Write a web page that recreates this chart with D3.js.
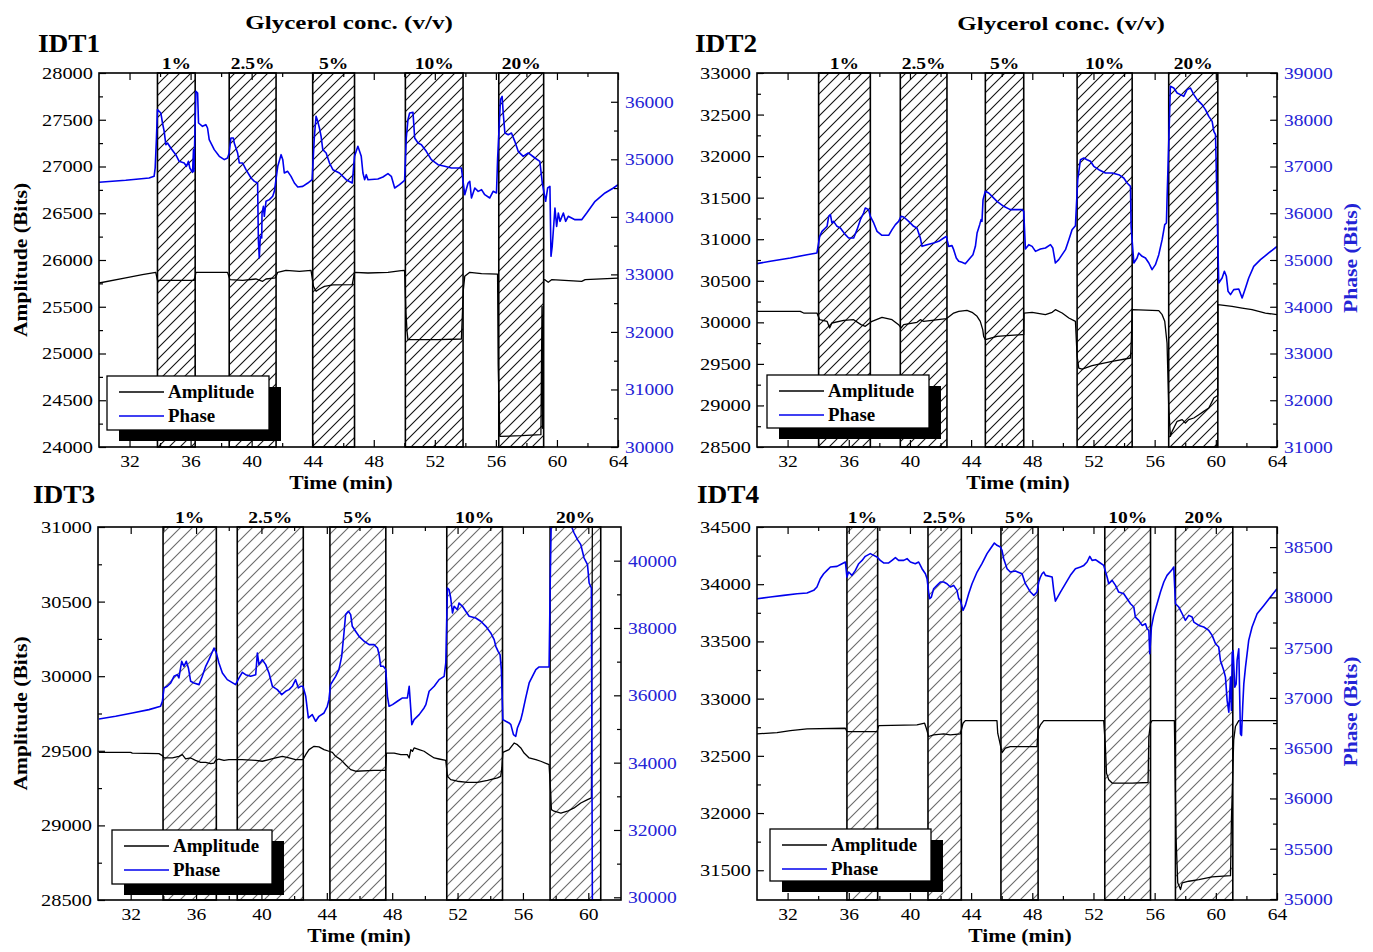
<!DOCTYPE html>
<html><head><meta charset="utf-8">
<script src="https://cdn.jsdelivr.net/npm/d3@7"></script>
<style>html,body{margin:0;padding:0;background:#fff;}svg{display:block;}</style>
</head><body>
<script>
// ---------------- DATA ----------------
const concLabels = ["1%", "2.5%", "5%", "10%", "20%"];
const idtNames = ["IDT1", "IDT2", "IDT3", "IDT4"];
const glycerolTitle = "Glycerol conc. (v/v)";
const seriesNames = ["Amplitude", "Phase"];

// glycerol injection windows (min)
const boxes1 = [[33.83,36.30],[38.53,41.60],[44.00,46.74],[50.07,53.85],[56.19,59.13]];
const boxes2 = [[34.03,37.41],[39.37,42.42],[44.93,47.44],[50.93,54.53],[56.92,60.13]];
const boxes3 = [[33.98,37.24],[38.52,42.56],[44.19,47.61],[51.34,54.75],[57.66,60.76]];
const boxes4 = [[35.88,37.89],[41.18,43.36],[45.95,48.38],[52.74,55.73],[57.36,61.11]];

// IDT1
const amp1 = [[30,25754],[31.75,25808],[32.84,25843],[33.72,25868],[33.83,25783],[36.24,25783],[36.35,25868],[38.42,25868],[38.58,25790],[39.41,25783],[40.28,25797],[40.72,25772],[40.94,25797],[41.55,25808],[41.71,25868],[42.25,25890],[43.13,25879],[43.89,25890],[44.05,25718],[44.22,25665],[44.44,25690],[44.77,25718],[45.32,25733],[46.59,25736],[46.74,25868],[47.62,25861],[48.93,25868],[49.80,25886],[50.02,25890],[50.11,25433],[50.18,25237],[50.24,25148],[52.21,25148],[53.74,25155],[53.87,25683],[53.96,25825],[54.29,25868],[55.06,25854],[56.11,25850],[56.15,24881],[56.26,24114],[57.68,24121],[58.95,24132],[59.02,25505],[59.06,24200],[59.13,25790],[59.21,25790],[59.43,25761],[59.65,25790],[61.62,25772],[61.85,25790],[64,25807]];
const phase1 = [[30,34600],[31.75,34635],[33.28,34675],[33.61,34704],[33.68,34849],[33.76,35341],[33.83,35863],[34.05,35805],[34.16,35631],[34.27,35486],[34.38,35254],[34.49,35283],[34.70,35197],[35.03,35081],[35.25,34965],[35.58,34936],[35.73,34878],[35.86,34965],[35.95,34849],[36.13,34774],[36.19,35168],[36.22,34790],[36.35,36181],[36.46,36152],[36.52,35631],[36.78,35573],[37.00,35602],[37.11,35544],[37.22,35341],[37.55,35168],[37.88,35052],[38.21,34994],[38.42,35023],[38.53,35110],[38.64,35370],[38.80,35370],[38.86,35283],[39.08,35110],[39.19,34936],[39.41,34936],[39.63,34820],[39.96,34675],[40.18,34617],[40.39,34588],[40.44,33603],[40.50,33285],[40.57,33661],[40.66,33632],[40.68,34067],[40.77,34183],[40.83,34009],[40.94,34270],[41.16,34299],[41.38,34357],[41.49,34444],[41.71,34878],[41.93,35081],[42.04,34994],[42.14,34762],[42.36,34791],[42.58,34704],[42.80,34588],[43.02,34519],[43.35,34530],[43.68,34588],[43.96,34646],[44.11,35399],[44.22,35747],[44.33,35660],[44.44,35544],[44.55,35399],[44.66,35168],[44.88,35110],[45.10,34936],[45.32,34820],[45.75,34762],[46.19,34646],[46.59,34588],[46.74,35052],[46.96,35225],[47.18,35052],[47.29,34762],[47.40,34646],[47.51,34733],[47.62,34646],[48.27,34658],[48.60,34693],[48.93,34750],[49.15,34704],[49.37,34501],[49.69,34559],[50.02,34635],[50.13,35370],[50.24,35689],[50.35,35805],[50.57,35816],[50.68,35370],[50.90,35283],[51.12,35254],[51.44,35139],[51.77,34994],[52.21,34907],[52.65,34878],[53.09,34849],[53.74,34849],[53.96,34385],[54.18,34588],[54.29,34617],[54.40,34328],[54.62,34501],[54.84,34443],[55.06,34472],[55.27,34385],[55.60,34328],[55.82,34444],[56.04,34415],[56.11,34994],[56.30,36037],[56.41,36094],[56.48,35805],[56.59,35457],[56.81,35428],[57.02,35457],[57.24,35312],[57.46,35139],[57.79,35052],[58.12,35110],[58.56,35023],[58.88,34965],[59.04,34588],[59.26,34270],[59.39,34501],[59.54,34530],[59.61,33314],[59.69,33488],[59.80,33893],[59.87,34154],[59.98,33835],[60.09,34067],[60.20,33922],[60.42,34067],[60.57,33922],[60.74,34009],[61.18,33951],[61.62,33951],[61.95,34067],[62.50,34270],[63.15,34415],[63.70,34501],[64,34559]];

// IDT2
const amp2 = [[30,30132],[32.83,30132],[33.05,30112],[33.92,30112],[34.10,30032],[34.58,30012],[34.75,29932],[34.90,29992],[35.67,30024],[36.32,30032],[36.80,29972],[37.08,29952],[37.52,30012],[38.17,30060],[38.83,30032],[39.26,29972],[39.42,29932],[39.59,29972],[40.46,30000],[40.68,30032],[40.90,30012],[42.38,30044],[42.86,30112],[43.19,30132],[43.73,30144],[44.06,30120],[44.39,30072],[44.60,30012],[44.76,29912],[44.82,29831],[44.93,29791],[45.69,29831],[46.56,29843],[47.33,29851],[47.44,29851],[47.46,30112],[47.99,30120],[48.86,30092],[49.30,30120],[49.51,30152],[49.95,30112],[50.39,30052],[50.82,30012],[50.93,29591],[51.04,29450],[51.26,29438],[51.91,29478],[53.22,29530],[54.42,29571],[54.48,29800],[54.53,30152],[55.83,30144],[56.27,30140],[56.49,30092],[56.66,30012],[56.81,29751],[56.92,28989],[57.03,28628],[57.14,28688],[57.47,28809],[57.80,28829],[58.01,28789],[58.23,28829],[58.56,28849],[58.89,28889],[59.21,28929],[59.54,28969],[59.76,29049],[59.87,29089],[60.12,29120],[60.14,30212],[61.06,30192],[61.72,30172],[62.37,30152],[63.24,30112],[64,30092]];
const phase2 = [[30,34922],[30.87,34972],[32.18,35043],[33.27,35114],[33.92,35150],[34.10,35506],[34.25,35613],[34.47,35685],[34.58,35720],[34.69,35934],[34.80,35970],[34.90,35792],[35.01,35827],[35.23,35720],[35.45,35685],[35.78,35542],[35.99,35471],[36.32,35471],[36.54,35649],[36.76,35863],[36.97,36005],[37.08,36112],[37.30,36077],[37.41,35934],[37.63,35792],[37.85,35613],[38.17,35528],[38.61,35528],[38.83,35649],[39.05,35756],[39.26,35827],[39.42,35934],[39.59,35920],[39.92,35827],[40.24,35720],[40.46,35685],[40.68,35471],[40.79,35292],[41.12,35328],[41.55,35364],[41.88,35399],[42.21,35471],[42.38,35506],[42.53,35292],[42.75,35307],[42.86,35221],[43.03,35043],[43.19,34972],[43.40,34950],[43.62,34922],[43.84,35007],[44.12,35114],[44.28,35292],[44.39,35578],[44.56,35756],[44.65,35863],[44.71,35827],[44.78,36291],[44.93,36469],[45.15,36433],[45.37,36362],[45.69,36255],[46.13,36148],[46.56,36077],[47.33,36077],[47.44,36041],[47.55,35235],[47.77,35328],[47.99,35292],[48.21,35185],[48.53,35235],[48.86,35257],[49.19,35328],[49.34,35257],[49.51,34936],[49.73,35007],[49.95,35114],[50.17,35221],[50.39,35435],[50.60,35649],[50.82,35734],[50.97,36718],[51.15,37146],[51.37,37182],[51.58,37146],[51.80,37111],[52.02,37004],[52.35,36932],[52.78,36861],[53.22,36861],[53.65,36825],[53.98,36754],[54.20,36647],[54.42,36576],[54.46,35720],[54.64,34936],[54.85,35043],[54.96,35150],[55.18,35079],[55.40,35043],[55.62,34936],[55.83,34793],[56.05,34900],[56.27,35114],[56.49,35435],[56.66,35756],[56.77,35792],[56.81,36291],[57.03,38715],[57.25,38679],[57.47,38572],[57.69,38537],[57.90,38501],[58.12,38644],[58.34,38679],[58.56,38537],[58.78,38430],[59.10,38323],[59.32,38216],[59.54,38073],[59.76,37966],[59.87,37752],[59.98,37681],[60.19,34508],[60.41,34615],[60.56,34758],[60.69,34651],[60.80,34330],[60.96,34259],[61.17,34366],[61.50,34380],[61.72,34187],[61.94,34401],[62.15,34615],[62.48,34865],[62.92,35007],[63.46,35150],[64,35292]];

// IDT3
const amp3 = [[30.06,29490],[32.00,29490],[32.10,29485],[33.73,29481],[33.94,29468],[34.04,29452],[34.55,29452],[34.95,29463],[35.16,29474],[35.36,29446],[35.67,29452],[35.97,29436],[36.28,29423],[36.59,29423],[36.89,29414],[37.10,29418],[37.20,29436],[37.40,29445],[37.71,29436],[38.01,29441],[38.52,29441],[38.83,29441],[39.65,29436],[40.05,29430],[40.46,29441],[40.87,29452],[41.28,29463],[41.69,29452],[42.09,29441],[42.54,29441],[42.71,29474],[42.91,29508],[43.22,29530],[43.52,29526],[43.83,29508],[44.13,29497],[44.34,29490],[44.54,29463],[44.85,29441],[45.15,29407],[45.46,29374],[45.76,29363],[46.89,29369],[47.59,29369],[47.65,29485],[48.12,29485],[48.53,29474],[48.93,29474],[49.04,29452],[49.14,29508],[49.24,29496],[49.34,29519],[49.65,29508],[49.95,29497],[50.26,29474],[50.57,29452],[50.87,29445],[51.28,29436],[51.38,29329],[51.58,29307],[51.99,29296],[52.60,29289],[53.22,29289],[53.83,29302],[54.44,29318],[54.64,29329],[54.71,29385],[54.77,29490],[55.15,29508],[55.46,29552],[55.66,29541],[55.87,29519],[56.07,29485],[56.38,29452],[56.79,29441],[57.09,29430],[57.60,29407],[57.70,29217],[57.74,29106],[57.91,29095],[58.32,29083],[58.72,29095],[59.13,29117],[59.54,29150],[59.95,29173],[60.19,29184],[60.25,31100]];
const phase3 = [[30.06,35298],[31.08,35377],[32.10,35476],[33.12,35575],[33.83,35674],[33.94,35823],[34.04,36219],[34.24,36268],[34.45,36367],[34.65,36565],[34.85,36614],[34.95,36516],[35.12,37010],[35.26,36862],[35.40,37010],[35.53,36812],[35.67,36417],[35.87,36367],[36.18,36318],[36.38,36565],[36.59,36862],[36.79,37060],[37.10,37406],[37.24,37258],[37.40,36961],[37.61,36664],[37.91,36466],[38.42,36318],[38.63,36516],[38.83,36684],[39.03,36614],[39.34,36565],[39.65,36614],[39.75,37258],[39.85,36912],[40.05,37060],[40.26,36912],[40.46,36664],[40.67,36268],[40.97,36169],[41.24,36021],[41.48,36120],[41.69,36169],[41.89,36268],[42.09,36466],[42.26,36219],[42.40,36268],[42.54,36268],[42.71,35971],[42.87,35328],[43.11,35427],[43.32,35229],[43.52,35377],[43.83,35476],[44.03,35674],[44.13,35872],[44.23,36318],[44.54,36565],[44.74,36763],[44.91,37159],[45.05,37852],[45.15,38397],[45.32,38496],[45.46,38397],[45.56,38050],[45.76,37902],[45.97,37753],[46.28,37605],[46.59,37506],[46.89,37506],[47.10,37406],[47.20,37209],[47.30,36862],[47.46,36862],[47.61,36763],[47.71,35971],[47.81,35674],[48.02,35724],[48.32,35823],[48.63,35922],[48.93,35922],[49.04,36268],[49.14,35575],[49.20,35129],[49.34,35278],[49.65,35427],[49.95,35625],[50.06,35724],[50.26,36120],[50.57,36268],[50.87,36466],[51.18,36565],[51.28,36961],[51.38,39188],[51.48,39139],[51.58,38891],[51.69,38446],[51.79,38644],[51.99,38545],[52.09,38743],[52.30,38644],[52.50,38496],[52.71,38347],[53.11,38297],[53.42,38199],[53.73,38050],[54.03,37852],[54.24,37654],[54.34,37456],[54.48,37307],[54.60,37209],[54.68,36763],[54.77,35278],[54.95,35229],[55.15,35179],[55.26,35130],[55.42,34833],[55.56,34783],[55.66,35030],[55.87,35278],[55.97,35476],[56.17,35922],[56.38,36367],[56.58,36565],[56.79,36763],[56.99,36842],[57.60,36842],[57.68,39733],[57.74,41400],[58.30,41500],[58.93,41070],[59.13,40822],[59.34,40624],[59.54,40476],[59.74,40079],[59.95,39882],[60.05,39337],[60.19,39188],[60.25,29500]];

// IDT4
const amp4 = [[30,32692],[31.31,32703],[32.18,32721],[33.27,32735],[35.78,32741],[35.88,32712],[37.85,32712],[37.96,32764],[40.46,32770],[40.96,32785],[41.07,32741],[41.16,32698],[41.22,32669],[41.55,32683],[42.21,32692],[42.64,32683],[43.30,32692],[43.47,32785],[43.62,32808],[45.69,32808],[45.74,32698],[45.80,32663],[46.02,32529],[46.24,32567],[46.56,32581],[48.31,32581],[48.38,32727],[48.53,32770],[48.75,32808],[52.67,32808],[52.78,32581],[52.85,32349],[53.00,32291],[53.22,32262],[54.53,32262],[55.57,32267],[55.62,32669],[55.73,32785],[55.83,32808],[57.29,32808],[57.40,31782],[57.51,31390],[57.69,31331],[57.80,31390],[58.23,31404],[58.89,31419],[59.76,31442],[60.96,31453],[61.02,31942],[61.17,32640],[61.28,32756],[61.50,32808],[64,32808]];
const phase4 = [[30,37987],[30.87,38003],[31.74,38020],[32.62,38036],[33.27,38043],[33.71,38070],[33.92,38103],[34.14,38186],[34.36,38235],[34.58,38269],[34.80,38302],[35.23,38308],[35.56,38335],[35.78,38352],[35.88,38202],[35.99,38252],[36.21,38219],[36.43,38269],[36.65,38335],[36.87,38368],[37.08,38408],[37.41,38435],[37.63,38418],[37.85,38401],[38.06,38368],[38.28,38342],[38.61,38342],[38.83,38368],[39.05,38395],[39.26,38368],[39.59,38368],[39.81,38385],[40.03,38352],[40.35,38335],[40.57,38352],[40.79,38285],[41.01,38235],[41.12,38186],[41.22,38053],[41.29,37987],[41.40,38003],[41.55,38086],[41.77,38119],[41.99,38153],[42.21,38153],[42.42,38136],[42.64,38103],[42.86,38119],[43.08,38070],[43.19,37987],[43.30,37970],[43.47,37871],[43.62,37920],[43.84,38036],[44.06,38136],[44.39,38252],[44.71,38335],[45.04,38435],[45.26,38484],[45.52,38541],[45.69,38518],[45.91,38501],[46.02,38468],[46.13,38385],[46.35,38285],[46.56,38252],[46.89,38262],[47.33,38235],[47.55,38136],[47.88,38053],[48.10,38020],[48.31,38053],[48.42,38153],[48.53,38202],[48.64,38235],[48.75,38252],[48.86,38219],[49.30,38202],[49.40,38070],[49.51,37963],[49.84,38053],[50.17,38136],[50.49,38219],[50.82,38285],[51.15,38302],[51.37,38318],[51.58,38352],[51.76,38408],[51.91,38368],[52.13,38375],[52.35,38352],[52.67,38318],[52.89,38202],[53.00,38136],[53.22,38169],[53.44,38119],[53.65,38053],[53.98,38036],[54.20,37987],[54.42,37937],[54.64,37904],[54.74,37804],[54.96,37771],[55.18,37721],[55.40,37738],[55.51,37688],[55.62,37671],[55.68,37439],[55.79,37705],[55.94,37821],[56.16,37937],[56.38,38053],[56.60,38153],[56.81,38219],[57.10,38269],[57.25,38302],[57.36,37937],[57.58,37904],[57.80,37837],[58.01,37771],[58.23,37821],[58.45,37804],[58.56,37754],[58.89,37721],[59.21,37705],[59.54,37671],[59.76,37622],[59.98,37539],[60.19,37506],[60.30,37373],[60.52,37273],[60.63,37207],[60.74,36975],[60.85,36859],[60.96,37207],[61.02,36875],[61.07,37439],[61.13,37472],[61.24,37107],[61.33,37140],[61.39,37373],[61.50,37489],[61.61,36643],[61.68,36626],[61.76,36925],[61.83,37140],[61.94,37306],[62.15,37572],[62.37,37705],[62.70,37837],[63.14,37920],[63.57,38003],[64,38086]];

// axis ticks
const xMajor64 = [32,36,40,44,48,52,56,60,64];
const xMinor64 = [34,38,42,46,50,54,58,62];
const xMajor62 = [32,36,40,44,48,52,56,60];
const xMinor62 = [34,38,42,46,50,54,58];

// ---------------- LAYOUT ----------------
const W = 1373, H = 952;
const FONT = "'Liberation Serif','Times New Roman',serif";
const BLUE = "#0000ee";
const LBLUE = "#2424d6";

const panels = [
  {name: idtNames[0], l:99, r:618, t:73, b:447, xDom:[30,64], xMaj:xMajor64, xMin:xMinor64,
   aDom:[24000,28000], aStep:500, pDom:[30000,36500], pStep:1000,
   boxes:boxes1, amp:amp1, phase:phase1, hatch:"#111", timeX:341,
   idPos:[38,52], title:[349,29], ampTitle:true, phTitle:false, leg:[107,376,162,54]},
  {name: idtNames[1], l:757, r:1277, t:73, b:447, xDom:[30,64], xMaj:xMajor64, xMin:xMinor64,
   aDom:[28500,33000], aStep:500, pDom:[31000,39000], pStep:1000,
   boxes:boxes2, amp:amp2, phase:phase2, hatch:"#111", timeX:1018,
   idPos:[695,52], title:[1061,30], ampTitle:false, phTitle:true, leg:[767,375,162,53]},
  {name: idtNames[2], l:98, r:621, t:527, b:900, xDom:[30,62], xMaj:xMajor62, xMin:xMinor62,
   aDom:[28500,31000], aStep:500, pDom:[29920,41000], pStep:2000,
   boxes:boxes3, amp:amp3, phase:phase3, hatch:"#666", timeX:359,
   idPos:[33,503], title:null, ampTitle:true, phTitle:false, leg:[112,830,160,54]},
  {name: idtNames[3], l:757, r:1277, t:527, b:900, xDom:[30,64], xMaj:xMajor64, xMin:xMinor64,
   aDom:[31240,34500], aStep:500, pDom:[34990,38700], pStep:500,
   boxes:boxes4, amp:amp4, phase:phase4, hatch:"#666", timeX:1020,
   idPos:[697,503], title:null, ampTitle:false, phTitle:true, leg:[770,829,161,52]}
];

const svg = d3.select("body").append("svg").attr("width", W).attr("height", H)
  .attr("font-family", FONT);
svg.append("rect").attr("width", W).attr("height", H).attr("fill", "#fff");
const defs = svg.append("defs");

function addHatch(id, color, s, w) {
  const p = defs.append("pattern").attr("id", id).attr("patternUnits", "userSpaceOnUse")
    .attr("width", s).attr("height", s);
  p.append("rect").attr("width", s).attr("height", s).attr("fill", "#fff");
  p.append("path").attr("d", `M0,${s} L${s},0 M${-s/2},${s/2} L${s/2},${-s/2} M${s/2},${s*1.5} L${s*1.5},${s/2}`)
    .attr("stroke", color).attr("stroke-width", w).attr("fill", "none");
}
addHatch("hatchDark", "#111", 11, 1.1);
addHatch("hatchGray", "#6a6a6a", 12, 1.1);

function txt(g, x, y, s, o) {
  return g.append("text")
    .attr("transform", `translate(${x},${y})` + (o.rot ? ` rotate(${o.rot})` : "") + ` scale(${o.sx || 1},1)`)
    .attr("text-anchor", o.anchor || "middle")
    .attr("font-size", o.size || 18)
    .attr("font-weight", o.weight || "normal")
    .attr("fill", o.fill || "#000")
    .text(s);
}

function range(a, b, step) { return d3.range(a, b + step / 2, step); }

panels.forEach((P, i) => {
  const g = svg.append("g");
  const x = d3.scaleLinear().domain(P.xDom).range([P.l, P.r]);
  const yA = d3.scaleLinear().domain(P.aDom).range([P.b, P.t]);
  const yP = d3.scaleLinear().domain(P.pDom).range([P.b, P.t]);

  const clipId = "clip" + i;
  defs.append("clipPath").attr("id", clipId).append("rect")
    .attr("x", P.l).attr("y", P.t).attr("width", P.r - P.l).attr("height", P.b - P.t);

  // hatched windows
  const hatchId = P.hatch === "#111" ? "hatchDark" : "hatchGray";
  g.selectAll("rect.win").data(P.boxes).join("rect").attr("class", "win")
    .attr("x", d => x(d[0])).attr("y", P.t)
    .attr("width", d => x(d[1]) - x(d[0])).attr("height", P.b - P.t)
    .attr("fill", `url(#${hatchId})`).attr("stroke", "#000").attr("stroke-width", 1.6);

  // concentration labels
  g.selectAll("text.conc").data(P.boxes).join("text").attr("class", "conc")
    .attr("transform", (d) => `translate(${x((d[0] + d[1]) / 2)},${P.t - 4}) scale(1.15,1)`)
    .attr("text-anchor", "middle").attr("font-size", 17).attr("font-weight", "bold")
    .text((d, k) => concLabels[k]);

  // lines
  const lineA = d3.line().x(d => x(d[0])).y(d => yA(d[1]));
  const lineP = d3.line().x(d => x(d[0])).y(d => yP(d[1]));
  const lg = g.append("g").attr("clip-path", `url(#${clipId})`);
  lg.append("path").datum(P.amp).attr("d", lineA).attr("fill", "none")
    .attr("stroke", "#000").attr("stroke-width", 1.3).attr("stroke-linejoin", "round");
  lg.append("path").datum(P.phase).attr("d", lineP).attr("fill", "none")
    .attr("stroke", BLUE).attr("stroke-width", 1.6).attr("stroke-linejoin", "round");

  // axes
  const styleAxis = (sel, sx, color) => {
    sel.select(".domain").remove();
    sel.selectAll(".tick line").attr("stroke", "#000").attr("stroke-width", 1.2);
    sel.selectAll(".tick text").attr("font-family", FONT).attr("font-size", 17)
      .attr("fill", color || "#000")
      .each(function () {
        const t = d3.select(this);
        const xx = +t.attr("x") || 0;
        t.attr("x", xx / sx).attr("transform", `scale(${sx},1)`);
      });
  };
  const aMaj = range(Math.ceil(P.aDom[0] / P.aStep) * P.aStep, P.aDom[1], P.aStep);
  const aMin = aMaj.map(v => v + P.aStep / 2).filter(v => v < P.aDom[1]);
  const pStart = Math.ceil(P.pDom[0] / P.pStep) * P.pStep;
  const pMaj = range(pStart, P.pDom[1], P.pStep).filter(v => v <= P.pDom[1]);
  const pMin = [pStart - P.pStep / 2].concat(pMaj.map(v => v + P.pStep / 2)).filter(v => v > P.pDom[0] && v < P.pDom[1]);

  g.append("g").attr("transform", `translate(${P.l},0)`)
    .call(d3.axisLeft(yA).tickValues(aMaj).tickFormat(d3.format("d")).tickSize(-7).tickPadding(6))
    .call(s => styleAxis(s, 1.2));
  g.append("g").attr("transform", `translate(${P.l},0)`)
    .call(d3.axisLeft(yA).tickValues(aMin).tickFormat("").tickSize(-4))
    .call(s => styleAxis(s, 1));

  g.append("g").attr("transform", `translate(${P.r},0)`)
    .call(d3.axisRight(yP).tickValues(pMaj).tickFormat(d3.format("d")).tickSize(-7).tickPadding(7))
    .call(s => styleAxis(s, 1.15, LBLUE));
  g.append("g").attr("transform", `translate(${P.r},0)`)
    .call(d3.axisRight(yP).tickValues(pMin).tickFormat("").tickSize(-4))
    .call(s => styleAxis(s, 1));

  g.append("g").attr("transform", `translate(0,${P.b})`)
    .call(d3.axisBottom(x).tickValues(P.xMaj).tickFormat(d3.format("d")).tickSize(-7).tickPadding(8))
    .call(s => styleAxis(s, 1.15));
  g.append("g").attr("transform", `translate(0,${P.b})`)
    .call(d3.axisBottom(x).tickValues(P.xMin).tickFormat("").tickSize(-4))
    .call(s => styleAxis(s, 1));
  g.append("g").attr("transform", `translate(0,${P.t})`)
    .call(d3.axisTop(x).tickValues(P.xMaj).tickFormat("").tickSize(-7))
    .call(s => styleAxis(s, 1));
  g.append("g").attr("transform", `translate(0,${P.t})`)
    .call(d3.axisTop(x).tickValues(P.xMin).tickFormat("").tickSize(-4))
    .call(s => styleAxis(s, 1));

  // frame
  g.append("rect").attr("x", P.l).attr("y", P.t).attr("width", P.r - P.l).attr("height", P.b - P.t)
    .attr("fill", "none").attr("stroke", "#000").attr("stroke-width", 1.6);

  // titles
  txt(g, P.timeX, P.b + 42, "Time (min)", {size: 18, weight: "bold", sx: 1.2});
  if (P.ampTitle) txt(g, 27, (P.t + P.b) / 2, "Amplitude (Bits)", {size: 18, weight: "bold", sx: 1.2, rot: -90});
  if (P.phTitle) txt(g, 1357, (P.t + P.b) / 2 - 2, "Phase (Bits)", {size: 18, weight: "bold", sx: 1.2, rot: -90, fill: LBLUE});
  if (P.title) txt(g, P.title[0], P.title[1], glycerolTitle, {size: 19, weight: "bold", sx: 1.32});
  txt(g, P.idPos[0], P.idPos[1], P.name, {size: 26, weight: "bold", anchor: "start", sx: 1.05});

  // legend
  const [lx, ly, lw, lh] = P.leg;
  const L = g.append("g");
  L.append("rect").attr("x", lx + 12).attr("y", ly + 11).attr("width", lw).attr("height", lh).attr("fill", "#000");
  L.append("rect").attr("x", lx).attr("y", ly).attr("width", lw).attr("height", lh)
    .attr("fill", "#fff").attr("stroke", "#000").attr("stroke-width", 1.3);
  const items = [{n: seriesNames[0], c: "#000"}, {n: seriesNames[1], c: BLUE}];
  items.forEach((it, k) => {
    const yy = ly + 16 + k * 24;
    L.append("line").attr("x1", lx + 12).attr("x2", lx + 57).attr("y1", yy).attr("y2", yy)
      .attr("stroke", it.c).attr("stroke-width", 1.4);
    txt(L, lx + 61, yy + 6, it.n, {size: 18, weight: "bold", anchor: "start", sx: 1.05});
  });
});
</script>
</body></html>
